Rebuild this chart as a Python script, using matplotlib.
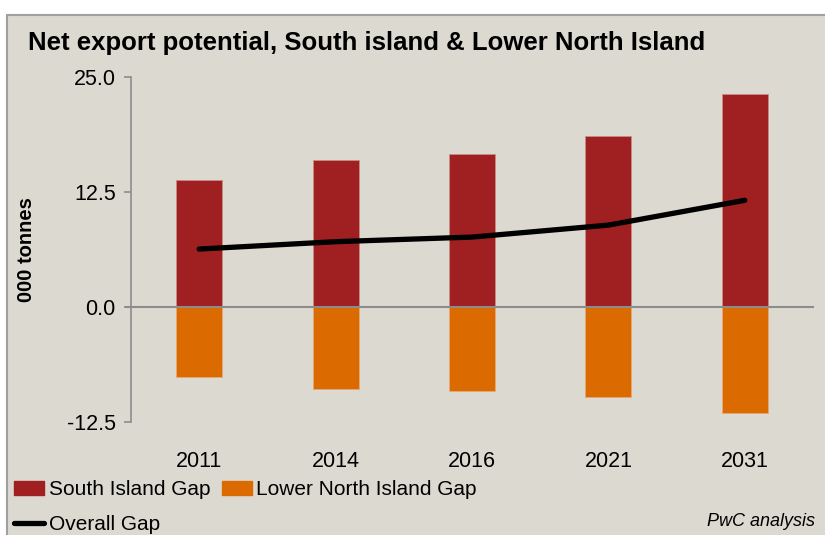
import numpy as np
import matplotlib
matplotlib.use("Agg")
import matplotlib.pyplot as plt
from matplotlib.patches import Rectangle, Patch
from matplotlib.lines import Line2D

plt.rcParams['font.family'] = ['Liberation Sans', 'DejaVu Sans']

# data (000 tonnes)
years = ['2011', '2014', '2016', '2021', '2031']
south_gap = [13.8, 16.0, 16.6, 18.6, 23.2]
lower_north_gap = [-7.6, -8.9, -9.1, -9.8, -11.5]
overall_gap = [6.3, 7.1, 7.6, 8.9, 11.6]
yticks = [-12.5, 0.0, 12.5, 25.0]

bg = '#DCDAD0'
red = '#A01F21'
orange = '#DB6A00'
grey = '#8C8C8C'

fig = plt.figure(figsize=(8.25, 5.35), dpi=100)
fig.patch.set_facecolor('white')

# beige panel with grey frame
panel = Rectangle((7 / 825, -0.05), 1.0, 1 - 15 / 535 + 0.05, transform=fig.transFigure,
                  facecolor=bg, edgecolor='#A0A0A0', linewidth=1.5, zorder=0)
fig.add_artist(panel)

ax = fig.add_axes([131 / 825, 1 - 422 / 535, (813 - 131) / 825, (422 - 77) / 535])
ax.set_facecolor('none')

x = np.arange(len(years))
w = 0.337
ax.bar(x, south_gap, w, color=red, edgecolor='#C98A86', linewidth=0.6, zorder=2)
ax.bar(x, lower_north_gap, w, color=orange, edgecolor='#E8A87A', linewidth=0.6, zorder=2)
ax.plot(x, overall_gap, color='black', linewidth=3.8, solid_capstyle='round', zorder=4)

ax.axhline(0, color=grey, linewidth=1.5, zorder=3, xmin=-5 / 682, clip_on=False)

ax.set_xlim(-0.5, 4.5)
ax.set_ylim(-12.5, 25)
ax.set_yticks(yticks)
ax.set_yticklabels(['%.1f' % v for v in yticks], fontsize=15.5)
ax.tick_params(axis='y', length=5, width=1.2, color=grey, pad=6)
ax.set_xticks(x)
ax.set_xticklabels(years, fontsize=15.5)
ax.tick_params(axis='x', length=0, pad=21)

for s in ['top', 'right', 'bottom']:
    ax.spines[s].set_visible(False)
ax.spines['left'].set_color(grey)
ax.spines['left'].set_linewidth(1.2)

ax.set_ylabel('000 tonnes', fontsize=14.5, fontweight='bold', labelpad=22)

fig.text(28 / 825, 1 - 43 / 535, 'Net export potential, South island & Lower North Island',
         fontsize=18.5, fontweight='bold', va='center', ha='left')

handles = [Patch(color=red, label='South Island Gap'),
           Line2D([0], [0], color='black', linewidth=3.8, solid_capstyle='round', label='Overall Gap'),
           Patch(color=orange, label='Lower North Island Gap')]
fig.legend(handles=handles, ncol=2, loc='upper left', bbox_to_anchor=(10 / 825, 1 - 476 / 535),
           frameon=False, fontsize=15, handlelength=1.45, handleheight=0.7, handletextpad=0.2,
           columnspacing=0.55, labelspacing=0.75, borderaxespad=0, borderpad=0.2)

fig.text(815 / 825, 1 - 522 / 535, 'PwC analysis', fontsize=13, style='italic',
         ha='right', va='center')

fig.savefig('out.png', dpi=100, facecolor=fig.get_facecolor())
